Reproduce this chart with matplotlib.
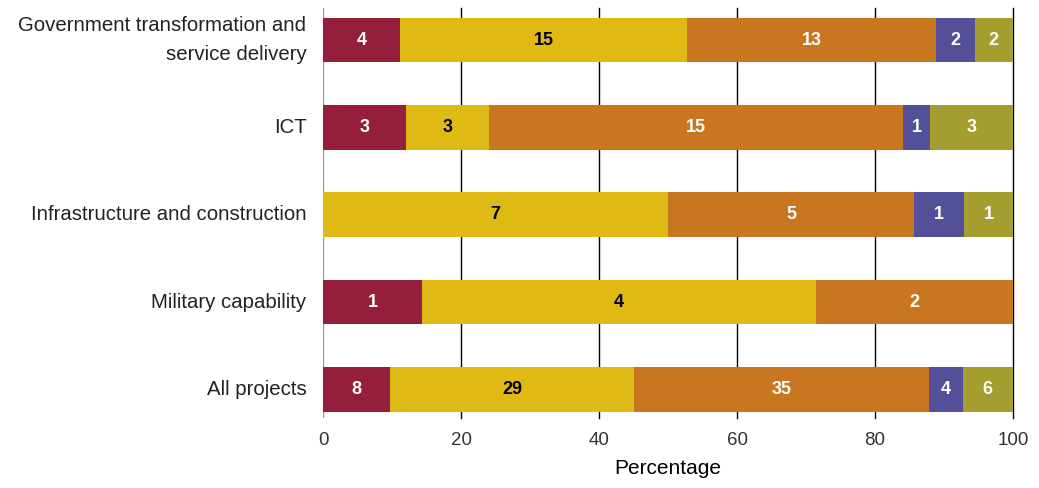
import numpy as np
import matplotlib
matplotlib.use("Agg")
import matplotlib.pyplot as plt

# categories from bottom to top
categorie = ["All projects", "Military capability", "Infrastructure and construction",
             "ICT", "Government transformation and\nservice delivery"]

# counts per segment (left to right)
s1 = [8, 1, 0, 3, 4]
s2 = [29, 4, 7, 3, 15]
s3 = [35, 2, 5, 15, 13]
s4 = [4, 0, 1, 1, 2]
s5 = [6, 0, 1, 3, 2]

colori = ["#951e3d", "#dfb914", "#c8761f", "#534f98", "#a69d30"]
colori_testo = ["white", "black", "white", "white", "white"]

serie = np.array([s1, s2, s3, s4, s5], dtype=float)
totali = serie.sum(axis=0)
percentuali = serie / totali * 100

plt.rcParams['font.family'] = ['Liberation Sans', 'DejaVu Sans']

fig = plt.figure(figsize=(10.39, 4.88), dpi=100)
ax = fig.add_axes([0.311, 0.143, 0.664, 0.841])

y = np.arange(len(categorie))
sinistra = np.zeros(len(categorie))
for i in range(len(serie)):
    ax.barh(y, percentuali[i], left=sinistra, height=0.51, color=colori[i], zorder=3)
    for j in range(len(categorie)):
        if serie[i][j] > 0:
            ax.text(sinistra[j] + percentuali[i][j] / 2, y[j], f"{int(serie[i][j])}",
                    ha="center", va="center", color=colori_testo[i],
                    fontsize=13, fontweight="bold", zorder=4)
    sinistra += percentuali[i]

# griglia verticale
for x in [20, 40, 60, 80, 100]:
    ax.axvline(x, color="black", lw=1, zorder=1, clip_on=False)
ax.axvline(0, color="#999999", lw=1, zorder=1)

ax.set_xlim(0, 100)
ax.set_ylim(-0.33, 4.37)
ax.set_yticks(y)
ax.set_yticklabels(categorie, fontsize=14.7, color="#222222", linespacing=1.7)
for lab in ax.get_yticklabels():
    lab.set_va("center")
ax.set_xticks([0, 20, 40, 60, 80, 100])
ax.tick_params(axis="x", labelsize=13.5, colors="#333333", length=0, pad=10)
ax.tick_params(axis="y", length=0, pad=12)
for s in ax.spines.values():
    s.set_visible(False)
ax.set_xlabel("Percentage", fontsize=15, labelpad=7)

plt.savefig("out.png", dpi=100)
